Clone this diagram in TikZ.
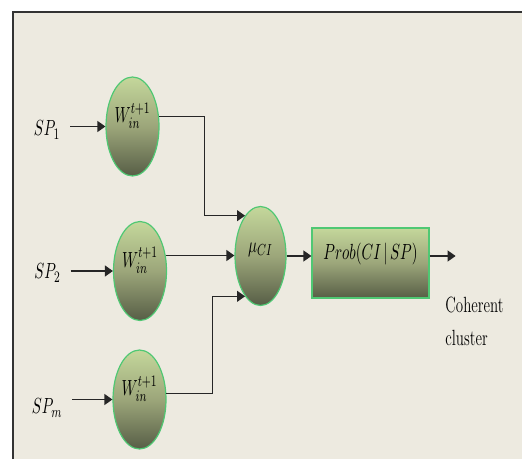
\documentclass[tikz,border=0pt]{standalone}
\usepackage{graphicx}
\usetikzlibrary{arrows.meta,positioning,shapes.geometric}
\definecolor{PaperBeige}{HTML}{EDEAE0}
\definecolor{LeafGreen}{HTML}{C4D79B}
\definecolor{MossMid}{HTML}{9CA67A}
\definecolor{OliveDark}{HTML}{575E46}
\definecolor{RimGreen}{HTML}{4FC873}
\newcommand{\narrow}[1]{\scalebox{0.68}[1]{#1}}

\begin{document}
\begin{tikzpicture}[
      x=0.5pt,y=-0.5pt,
      font=\fontsize{11}{16.5}\selectfont,
      wgt/.style={ellipse,draw=RimGreen,line width=0.6pt,
                  top color=LeafGreen,bottom color=OliveDark,middle color=MossMid,
                  minimum width=26.5pt,minimum height=49.5pt,inner sep=0pt,
                  text height=8pt,text depth=12pt},
      probbox/.style={rectangle,draw=RimGreen,line width=0.6pt,
                  top color=LeafGreen,bottom color=OliveDark,middle color=MossMid,
                  minimum width=58.5pt,minimum height=35pt,inner sep=0pt,
                  text height=8pt,text depth=12pt},
      sp/.style={inner sep=0pt,outer sep=5pt},
      arr/.style={-{Triangle[length=4pt,width=5.5pt]},line width=0.6pt,black!85},
    ]
    % sheet and frame
    \path[use as bounding box,fill=white] (0,0) rectangle (522,459);
    \fill[PaperBeige] (13,12) rectangle (522,459);
    \draw[line width=1pt,black!80] (13,459) -- (13,12) -- (522,12);

    % weight units
    \node[wgt] (w1) at (132.5,126.5) {\narrow{$W_{in}^{t+1}$}};
    \node[wgt] (w2) at (140,271)     {\narrow{$W_{in}^{t+1}$}};
    \node[wgt] (w3) at (139.5,399.5) {\narrow{$W_{in}^{t+1}$}};
    \node[wgt,minimum width=25.5pt] (mu) at (260.5,256) {\narrow{$\mu_{CI}$}};
    \node[probbox] (prob) at (370.5,263) {\narrow{$Prob(CI\,|\,SP)$}};

    % inputs
    \node[sp] (sp1) at (47,130)   {\narrow{$SP_1$}};
    \node[sp] (sp2) at (47.5,273) {\narrow{$SP_2$}};
    \node[sp] (spm) at (47,408)   {\narrow{$SP_m$}};

    \draw[arr] (sp1.east |- w1) -- (w1);
    \draw[arr] (sp2.east |- w2) -- (w2);
    \draw[arr] (spm.east |- w3) -- (w3);

    \draw[arr] (w1.20) -- ++(45.5,0) |- (mu.111);
    \draw[arr] (w2.31) -- (w2.31 -| mu.west);
    \draw[arr] (w3.13) -- ++(46.2,0) |- (mu.249);

    \draw[arr] (mu.east) -- (mu.east -| prob.west);
    \draw[arr] (mu.east -| prob.east) -- ++(26,0) coordinate (out);
    \node[anchor=north west,inner sep=0pt,align=left] (coh) at (445,297)
      {\narrow{Coherent}\\\narrow{cluster}};
  \end{tikzpicture}
\end{document}
